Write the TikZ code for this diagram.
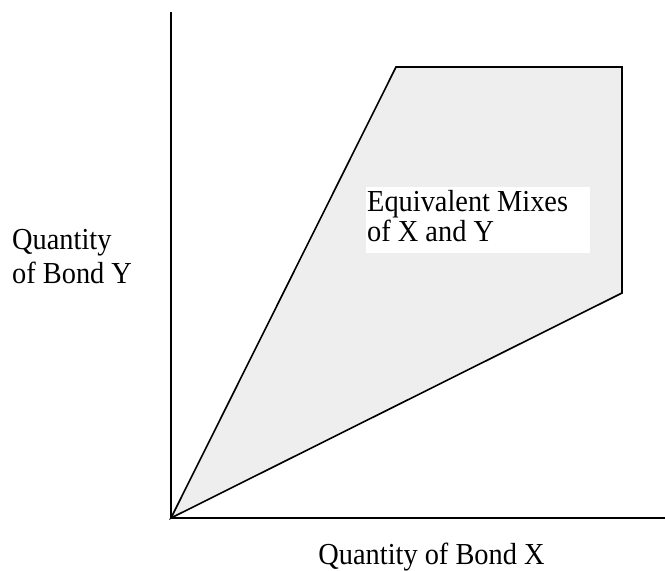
\documentclass[tikz,border=0pt]{standalone}
\usepackage{fontspec}
\setmainfont{Liberation Serif}
\newfontfamily\condfont[FakeStretch=0.93]{Liberation Serif}
\begin{document}
\begin{tikzpicture}[x=1pt,y=-1pt,
  axis/.style={line width=1.6pt,black},
  edge/.style={line width=1.6pt,black,line join=miter},
  lbl/.style={inner sep=0pt,font=\condfont\fontsize{30.5}{32}\selectfont},
  region/.style={fill={rgb,255:red,238;green,238;blue,238}}]
\useasboundingbox (0,0) rectangle (665,571);
\coordinate (O) at (171,518);
\coordinate (ytop) at (171,12);
\coordinate (xend) at (665,518);
\coordinate (A) at (396,67);
\coordinate (B) at (622,67);
\coordinate (C) at (622,293);
\fill[region] (O) -- (A) -- (B) -- (C) -- cycle;
\draw[edge] (O) -- (A) -- (B) -- (C) -- cycle;
\fill[white] (366,187) rectangle (590,253);
\node[lbl,anchor=base west] (m1) at (367,211) {Equivalent Mixes};
\node[lbl,anchor=base west] (m2) at (367,241.5) {of X and Y};
\node[lbl,anchor=base west] (y1) at (12,249) {Quantity};
\node[lbl,anchor=base west] (y2) at (12,283) {of Bond Y};
\node[lbl,anchor=base] (xl) at (431.5,564) {Quantity of Bond X};
\draw[axis] (ytop) -- (O) -- (xend);
\end{tikzpicture}
\end{document}
